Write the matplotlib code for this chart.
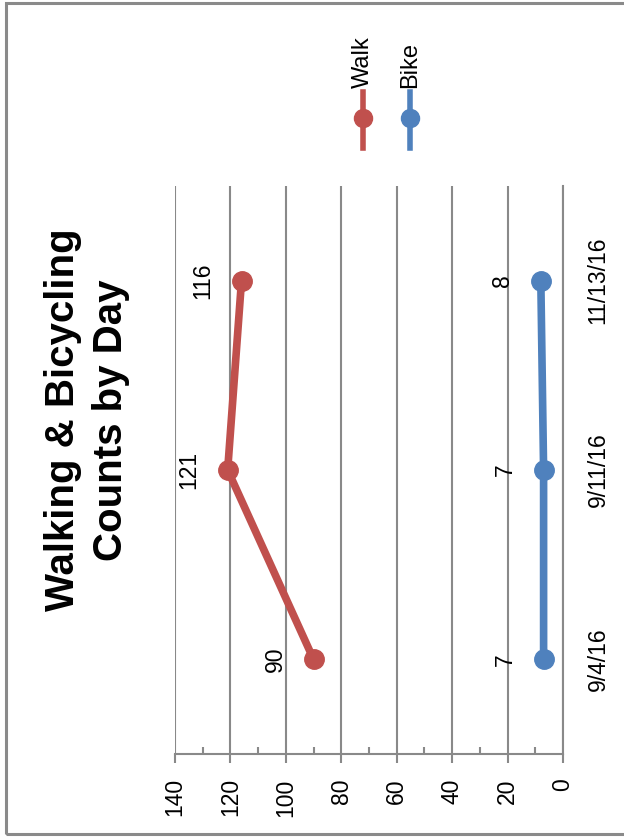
import matplotlib.pyplot as plt
from matplotlib.lines import Line2D
from matplotlib.patches import Rectangle
from matplotlib.ticker import MultipleLocator

# Chart data (the original Excel chart is shown rotated 90 degrees)
dates = ['9/4/16', '9/11/16', '11/13/16']
walk = [90, 121, 116]
bike = [7, 7, 8]
series_names = ['Walk', 'Bike']
colors = ['#C0504D', '#4F81BD']

W, H = 624, 838
plt.rcParams['font.family'] = ['Liberation Sans', 'DejaVu Sans']
fig = plt.figure(figsize=(W / 100, H / 100), dpi=100)

def fx(x):
    return x / W

def fy(y):
    return 1 - y / H

grid_col = '#898989'
lab_size = 16.5

# Outer chart border
fig.add_artist(Rectangle((fx(6), fy(834)), 1.2, fy(3) - fy(834), transform=fig.transFigure,
                         fill=False, edgecolor='#8a8a8a', linewidth=2.2))

# Plot area: value axis horizontal (0 on the right), categories vertical
ax = fig.add_axes([fx(175), fy(754), fx(563) - fx(175), fy(186) - fy(754)])
idx = list(range(len(dates)))
for vals, col in zip([walk, bike], colors):
    ax.plot(vals, idx, color=col, lw=5.5, marker='o', markersize=14, zorder=3, clip_on=False)
    for v, i in zip(vals, idx):
        ax.annotate(str(v), (v, i), xytext=(-27, 0), textcoords='offset pixels',
                    rotation=90, ha='right', va='center', fontsize=lab_size, color='black')

ax.set_xlim(140, 0)
ax.set_ylim(-0.5, len(dates) - 0.5)
ax.xaxis.set_major_locator(MultipleLocator(20))
ax.xaxis.set_minor_locator(MultipleLocator(10))
ax.grid(axis='x', which='major', color=grid_col, lw=1.5)
ax.set_axisbelow(True)

for s in ['left', 'top']:
    ax.spines[s].set_visible(False)
for s in ['bottom', 'right']:
    ax.spines[s].set_color(grid_col)
    ax.spines[s].set_linewidth(1.5)

ax.tick_params(axis='x', which='major', direction='out', length=6.5, width=1.5,
               color=grid_col, pad=11, labelsize=lab_size, labelrotation=90)
ax.tick_params(axis='x', which='minor', direction='in', length=5, width=1.5, color=grid_col)
for lab in ax.get_xticklabels():
    lab.set_va('top')

ax.set_yticks(idx)
ax.set_yticklabels(dates)
ax.yaxis.tick_right()
ax.tick_params(axis='y', length=0, pad=17, labelsize=lab_size, labelrotation=90)
for lab in ax.get_yticklabels():
    lab.set_va('center')
    lab.set_ha('left')

# Title
fig.text(fx(87), fy(420), 'Walking & Bicycling\nCounts by Day', rotation=90,
         ha='center', va='center', multialignment='center', fontsize=29,
         fontweight='bold', linespacing=1.32)

# Legend (vertical, drawn in figure space)
for name, col, lx in zip(series_names, colors, [363, 410]):
    fig.add_artist(Line2D([fx(lx), fx(lx)], [fy(148), fy(92)], transform=fig.transFigure,
                          color=col, lw=4))
    fig.add_artist(Line2D([fx(lx)], [fy(118)], transform=fig.transFigure,
                          color=col, marker='o', markersize=13))
    fig.text(fx(lx), fy(88), name, rotation=90, ha='center', va='bottom', fontsize=17)

fig.savefig('out.png', dpi=100)
